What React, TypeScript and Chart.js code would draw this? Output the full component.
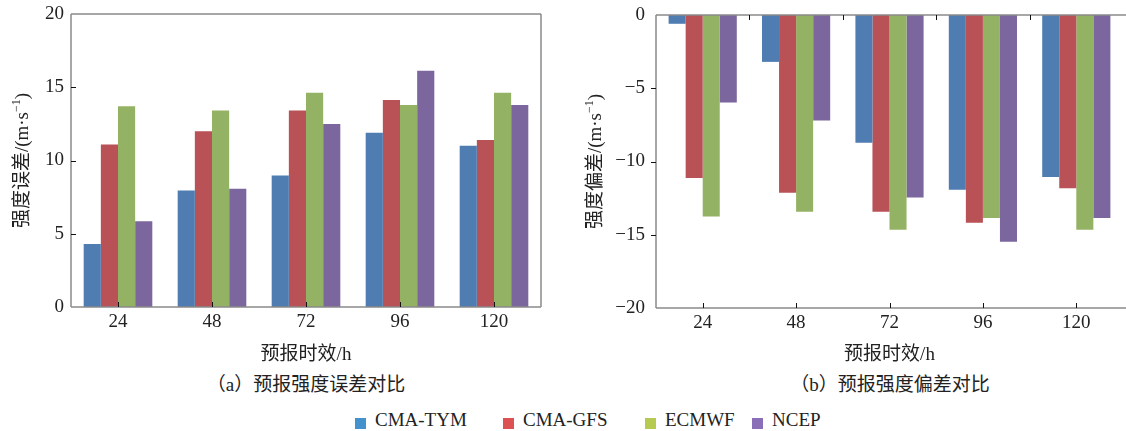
import React, { useEffect, useRef } from "react";
import { Chart, registerables } from "chart.js";

Chart.register(...registerables);

const categories = ["24", "48", "72", "96", "120"];
const seriesNames = ["CMA-TYM", "CMA-GFS", "ECMWF", "NCEP"];
const barColors = ["#4f7db2", "#b85256", "#94b263", "#7b669e"];
const legendColors = ["#4392ce", "#dc5252", "#b6c951", "#8a6fb8"];

// (a) intensity error
const errTYM = [4.3, 7.95, 8.98, 11.9, 11.0];
const errGFS = [11.1, 12.0, 13.42, 14.13, 11.4];
const errECMWF = [13.7, 13.42, 14.62, 13.78, 14.62];
const errNCEP = [5.85, 8.08, 12.5, 16.12, 13.78];

// (b) intensity bias
const biasTYM = [-0.6, -3.2, -8.72, -11.93, -11.05];
const biasGFS = [-11.13, -12.14, -13.43, -14.18, -11.82];
const biasECMWF = [-13.75, -13.43, -14.66, -13.86, -14.66];
const biasNCEP = [-5.98, -7.2, -12.45, -15.48, -13.86];

const yTicksA = [0, 5, 10, 15, 20];
const yTicksB = [-20, -15, -10, -5, 0];

const SERIF = '"Liberation Serif", "Noto Sans CJK SC", serif';

const framePlugin = {
  id: "frame",
  afterDraw(chart: any, _args: any, opts: any) {
    const { ctx, chartArea } = chart;
    const { left, right, top, bottom } = chartArea;
    const xs = chart.scales.x;
    const ys = chart.scales.y;
    ctx.save();
    ctx.strokeStyle = "#8a8a8a";
    ctx.lineWidth = 1.5;
    const line = (x1: number, y1: number, x2: number, y2: number) => {
      ctx.beginPath();
      ctx.moveTo(x1, y1);
      ctx.lineTo(x2, y2);
      ctx.stroke();
    };
    const ext = opts.extendRight || 0;
    line(left, top, right + ext, top);
    line(left, bottom, right + ext, bottom);
    line(left, top, left, bottom);
    if (opts.rightBorder) line(right, top, right, bottom);

    ctx.strokeStyle = "#111";
    ctx.lineWidth = 1;
    const n = xs.ticks.length;
    for (let i = 0; i < n; i++) {
      const x = Math.round(xs.getPixelForTick(i)) + 0.5;
      line(x, bottom, x, bottom - 5);
    }
    if (opts.topTicks) {
      for (let i = 0; i < n - 1; i++) {
        const x = Math.round((xs.getPixelForTick(i) + xs.getPixelForTick(i + 1)) / 2) + 0.5;
        line(x, top, x, top + 5);
      }
    }
    ys.ticks.forEach((t: any) => {
      const y = Math.round(ys.getPixelForValue(t.value)) + 0.5;
      if (y > top + 2 && y < bottom - 2) line(left, y, left + opts.yTickDir * 5, y);
    });

    // y title with superscript
    ctx.fillStyle = "#222";
    const cy = (top + bottom) / 2;
    ctx.translate(opts.yTitleX, cy);
    ctx.rotate(-Math.PI / 2);
    const mainFont = `19px ${SERIF}`;
    const supFont = `12px ${SERIF}`;
    const p1 = opts.yTitle + "/(m·s";
    const p2 = "−1";
    const p3 = ")";
    ctx.font = mainFont;
    const w1 = ctx.measureText(p1).width;
    const w3 = ctx.measureText(p3).width;
    ctx.font = supFont;
    const w2 = ctx.measureText(p2).width;
    const x0 = -(w1 + w2 + w3) / 2;
    ctx.textBaseline = "middle";
    ctx.textAlign = "left";
    ctx.font = mainFont;
    ctx.fillText(p1, x0, 0);
    ctx.font = supFont;
    ctx.fillText(p2, x0 + w1, -6);
    ctx.font = mainFont;
    ctx.fillText(p3, x0 + w1 + w2, 0);
    ctx.restore();

    // x title
    ctx.save();
    ctx.fillStyle = "#222";
    ctx.font = `19px ${SERIF}`;
    ctx.textAlign = "center";
    ctx.textBaseline = "middle";
    ctx.fillText("预报时效/h", (left + right) / 2, opts.xTitleY);
    ctx.restore();
  },
};

function makeDatasets(vals: number[][]) {
  return vals.map((v, i) => ({
    label: seriesNames[i],
    data: v,
    backgroundColor: barColors[i],
    borderWidth: 0,
    barPercentage: 1,
    categoryPercentage: 0.73,
  }));
}

function BarPanel(props: {
  width: number;
  height: number;
  data: number[][];
  min: number;
  max: number;
  ticks: number[];
  yWidth: number;
  padTop: number;
  padRight: number;
  xHeight: number;
  tickPad: number;
  frame: any;
}) {
  const ref = useRef<HTMLCanvasElement>(null);
  useEffect(() => {
    const canvas = ref.current!;
    const chart = new Chart(canvas, {
      type: "bar",
      data: { labels: categories, datasets: makeDatasets(props.data) as any },
      options: {
        responsive: false,
        animation: false,
        devicePixelRatio: 1,
        layout: { padding: { top: props.padTop, right: props.padRight, left: 0, bottom: 0 } },
        plugins: {
          legend: { display: false },
          tooltip: { enabled: false },
          frame: props.frame,
        } as any,
        scales: {
          x: {
            grid: { display: false, drawTicks: false },
            border: { display: false },
            ticks: { color: "#222", font: { family: SERIF, size: 19 }, padding: 4 },
            afterFit: (s: any) => {
              s.height = props.xHeight;
            },
          },
          y: {
            min: props.min,
            max: props.max,
            grid: { display: false, drawTicks: true, tickLength: props.tickPad },
            border: { display: false },
            afterBuildTicks: (s: any) => {
              s.ticks = props.ticks.map((v) => ({ value: v }));
            },
            ticks: {
              color: "#222",
              font: { family: SERIF, size: 19 },
              padding: 0,
              callback: (v: any) => String(v).replace("-", "−"),
            },
            afterFit: (s: any) => {
              s.width = props.yWidth;
            },
          },
        },
      },
      plugins: [framePlugin],
    });
    return () => chart.destroy();
  }, []);
  return (
    <canvas
      ref={ref}
      width={props.width}
      height={props.height}
      style={{ width: props.width, height: props.height, display: "block" }}
    />
  );
}

const textStyle: React.CSSProperties = {
  position: "absolute",
  fontFamily: SERIF,
  fontSize: 19,
  color: "#222",
  whiteSpace: "nowrap",
  lineHeight: "24px",
};

export default function App() {
  useEffect(() => {
    document.body.style.margin = "0";
  }, []);
  const legendLefts = [355, 503, 645, 752];
  return (
    <div style={{ position: "relative", width: 1126, height: 431, overflow: "hidden", background: "#fff" }}>
      <div style={{ position: "absolute", left: 0, top: 0 }}>
        <BarPanel
          width={560}
          height={372}
          data={[errTYM, errGFS, errECMWF, errNCEP]}
          min={0}
          max={20}
          ticks={yTicksA}
          yWidth={71}
          padTop={14}
          padRight={19}
          xHeight={65}
          tickPad={7}
          frame={{ rightBorder: true, topTicks: false, yTickDir: 1, yTitle: "强度误差", yTitleX: 23, xTitleY: 355 }}
        />
      </div>
      <div style={{ position: "absolute", left: 560, top: 0 }}>
        <BarPanel
          width={566}
          height={372}
          data={[biasTYM, biasGFS, biasECMWF, biasNCEP]}
          min={-20}
          max={0}
          ticks={yTicksB}
          yWidth={96}
          padTop={15}
          padRight={3}
          xHeight={64}
          tickPad={11}
          frame={{ rightBorder: false, extendRight: 3, topTicks: true, yTickDir: -1, yTitle: "强度偏差", yTitleX: 36, xTitleY: 355 }}
        />
      </div>
      <div style={{ ...textStyle, left: 306, top: 373, transform: "translateX(-50%)" }}>（a）预报强度误差对比</div>
      <div style={{ ...textStyle, left: 890, top: 373, transform: "translateX(-50%)" }}>（b）预报强度偏差对比</div>
      {seriesNames.map((name, i) => (
        <div key={name} style={{ ...textStyle, left: legendLefts[i], top: 408, display: "flex", alignItems: "center" }}>
          <span style={{ display: "inline-block", width: 11, height: 11, background: legendColors[i], marginRight: 9, marginTop: 6 }} />
          <span>{name}</span>
        </div>
      ))}
    </div>
  );
}
